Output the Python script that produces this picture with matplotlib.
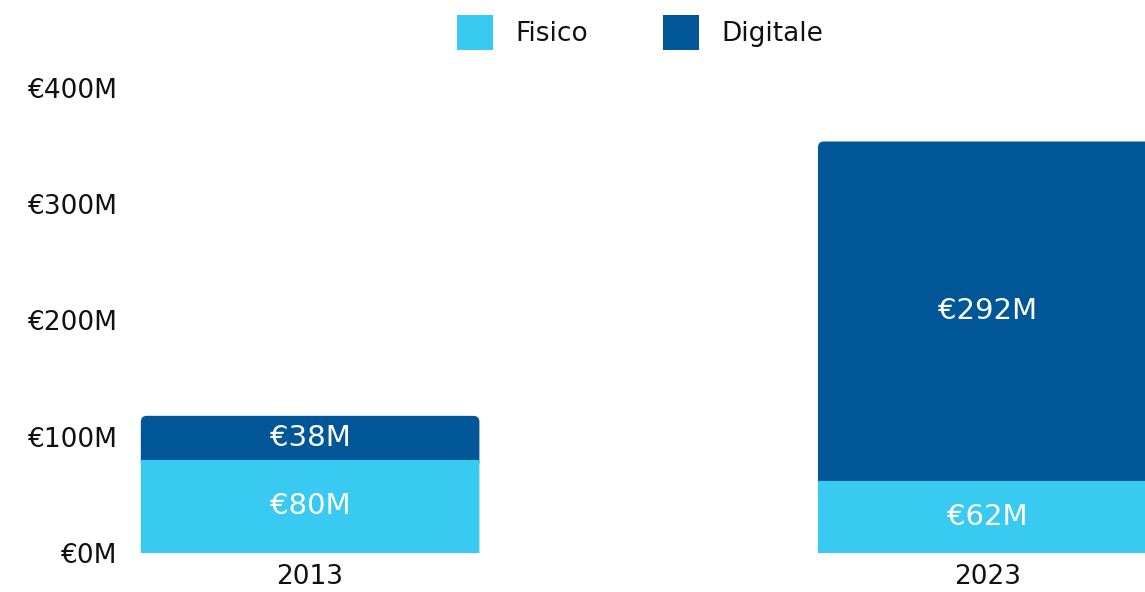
import matplotlib
matplotlib.use('Agg')
import matplotlib.pyplot as plt
from matplotlib.patches import FancyBboxPatch, Patch

years = ['2013', '2023']
fisico = [80, 62]
digitale = [38, 292]
yticks = [0, 100, 200, 300, 400]

c_fisico = '#39CAF1'
c_digitale = '#005696'

plt.rcParams['font.family'] = ['DejaVu Sans']

W, H = 1145, 592
fig = plt.figure(figsize=(W / 100, H / 100), dpi=100)
# axes box in pixels: left 130, right 1145, bottom 553, top 88
ax = fig.add_axes([130 / W, (H - 553) / H, (1145 - 130) / W, (553 - 88) / H])

x = list(range(len(years)))
ax.set_xlim(-0.266, 1.233)
ax.set_ylim(0, 400)

bw = 0.5
low_bars = ax.bar(x, fisico, width=bw, color=c_fisico, zorder=3)
top_bars = ax.bar(x, digitale, width=bw, bottom=fisico, color=c_digitale,
                  zorder=2)
for b in low_bars:
    b.set_snap(False)

# round the top corners: replace top segments with rounded boxes that
# reach a little below the segment (hidden behind the lower segment)
px_x = (1145 - 130) / (1.233 + 0.266)
px_y = (553 - 88) / 400
aspect = px_x / px_y
r = 6 / px_x
for b in top_bars:
    b.set_visible(False)
    bx, by = b.get_x(), b.get_y()
    bwid, bh = b.get_width(), b.get_height()
    y0 = by - 7
    patch = FancyBboxPatch((bx, y0), bwid, by + bh - y0,
                           boxstyle=f'round,pad=0,rounding_size={r}',
                           mutation_aspect=aspect, facecolor=c_digitale,
                           edgecolor='none', zorder=2)
    ax.add_patch(patch)

for i in x:
    ax.text(i, fisico[i] / 2, f'€{fisico[i]}M', ha='center', va='center',
            color='white', fontsize=21, zorder=5)
    ax.text(i, fisico[i] + digitale[i] / 2, f'€{digitale[i]}M', ha='center',
            va='center', color='white', fontsize=21, zorder=5)

ax.set_yticks(yticks)
ax.set_yticklabels([f'€{v}M' for v in yticks], fontsize=19, color='#111111')
ax.set_xticks(x)
ax.set_xticklabels(years, fontsize=19, color='#111111')
ax.tick_params(axis='y', length=0, pad=9)
ax.tick_params(axis='x', length=0, pad=8)
for s in ax.spines.values():
    s.set_visible(False)

handles = [Patch(facecolor=c_fisico, label='Fisico'),
           Patch(facecolor=c_digitale, label='Digitale')]
fig.legend(handles=handles, loc='upper center', bbox_to_anchor=(640 / W, 1.0),
           ncol=2, frameon=False, fontsize=19, handlelength=1.35,
           handleheight=1.7, columnspacing=2.85, handletextpad=0.85,
           labelcolor='#111111', borderaxespad=0.15)

fig.savefig('out.png', dpi=100)
